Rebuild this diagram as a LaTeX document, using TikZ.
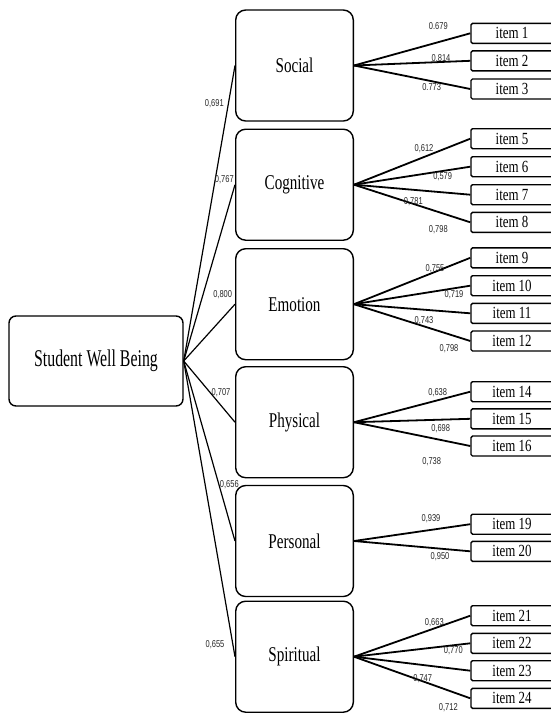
\documentclass[tikz,border=0pt]{standalone}
\usepackage{graphicx}
\usepackage{fontspec}
\setmainfont{Liberation Serif}
\newfontfamily\numfont{Liberation Sans}
\newcommand{\hsq}[2]{\scalebox{#1}[1]{#2}}
\newcommand{\catt}[1]{\hsq{0.72}{#1}}
\newcommand{\itt}[1]{\hsq{0.76}{#1}}
\newcommand{\numt}[1]{\hsq{0.75}{#1}}
\tikzset{
  catbox/.style={draw, line width=1.4pt, rounded corners=10pt, minimum width=117.6pt, minimum height=111pt, inner sep=0pt, font=\fontsize{21}{25}\selectfont},
  mainbox/.style={draw, line width=1.4pt, rounded corners=7pt, minimum width=174pt, minimum height=90pt, inner sep=0pt, font=\fontsize{24}{28}\selectfont},
  itembox/.style={draw, line width=1.4pt, rounded corners=1.5pt, minimum width=82pt, minimum height=20pt, inner sep=0pt, font=\fontsize{17}{20}\selectfont},
  lbl/.style={inner sep=0pt, font=\numfont\fontsize{10}{12}\selectfont, text=black!85},
  edgeA/.style={line width=1.2pt},
  edgeB/.style={line width=1.8pt}
}
\begin{document}
\begin{tikzpicture}[x=1pt,y=-1pt]
\useasboundingbox (0,0) rectangle (551,713);
\clip (0,0) rectangle (551,713);
\fill[white] (0,0) rectangle (551,713);

% main and category boxes
\node[mainbox] (swb) at (96,361) {\hsq{0.66}{Student Well Being}};
\node[catbox] (soc) at (294.5,65.5) {\catt{Social}};
\node[catbox] (cog) at (294.5,184.7) {\catt{Cognitive}};
\node[catbox] (emo) at (294.5,304.2) {\catt{Emotion}};
\node[catbox] (phy) at (294.5,422.2) {\catt{Physical}};
\node[catbox] (per) at (294.5,541) {\catt{Personal}};
\node[catbox] (spi) at (294.5,656.7) {\catt{Spiritual}};

% items
\node[itembox] (i1) at (512,33.3) {\itt{item 1}};
\node[itembox] (i2) at (512,60.8) {\itt{item 2}};
\node[itembox] (i3) at (512,89) {\itt{item 3}};
\node[itembox] (i5) at (512,138.7) {\itt{item 5}};
\node[itembox] (i6) at (512,166.7) {\itt{item 6}};
\node[itembox] (i7) at (512,194.7) {\itt{item 7}};
\node[itembox] (i8) at (512,222.3) {\itt{item 8}};
\node[itembox] (i9) at (512,257.8) {\itt{item 9}};
\node[itembox] (i10) at (512,285.7) {\itt{item 10}};
\node[itembox] (i11) at (512,313.3) {\itt{item 11}};
\node[itembox] (i12) at (512,341) {\itt{item 12}};
\node[itembox] (i14) at (512,391.7) {\itt{item 14}};
\node[itembox] (i15) at (512,418.8) {\itt{item 15}};
\node[itembox] (i16) at (512,446) {\itt{item 16}};
\node[itembox] (i19) at (512,524.2) {\itt{item 19}};
\node[itembox] (i20) at (512,551.3) {\itt{item 20}};
\node[itembox] (i21) at (512,615.7) {\itt{item 21}};
\node[itembox] (i22) at (512,643.3) {\itt{item 22}};
\node[itembox] (i23) at (512,670.7) {\itt{item 23}};
\node[itembox] (i24) at (512,698.3) {\itt{item 24}};

% main -> categories
\foreach \c in {soc,cog,emo,phy,per,spi}
  \draw[edgeA] (swb.east) -- (\c.west);

% categories -> items
\foreach \i in {i1,i2,i3} \draw[edgeB] (soc.east) -- (\i.west);
\foreach \i in {i5,i6,i7,i8} \draw[edgeB] (cog.east) -- (\i.west);
\foreach \i in {i9,i10,i11,i12} \draw[edgeB] (emo.east) -- (\i.west);
\foreach \i in {i14,i15,i16} \draw[edgeB] (phy.east) -- (\i.west);
\foreach \i in {i19,i20} \draw[edgeB] (per.east) -- (\i.west);
\foreach \i in {i21,i22,i23,i24} \draw[edgeB] (spi.east) -- (\i.west);

% loadings main -> categories
\node[lbl] (l1) at (214.3,103.3) {\numt{0,691}};
\node[lbl] (l2) at (224.3,179.3) {\numt{0,767}};
\node[lbl] (l3) at (222.7,295) {\numt{0,800}};
\node[lbl] (l4) at (221,392.7) {\numt{0,707}};
\node[lbl] (l5) at (229.3,485) {\numt{0,656}};
\node[lbl] (l6) at (215,645) {\numt{0,655}};

% loadings categories -> items
\node[lbl] (a1) at (438.3,26) {\numt{0.679}};
\node[lbl] (a2) at (441,58.3) {\numt{0.814}};
\node[lbl] (a3) at (431.7,87.3) {\numt{0.773}};
\node[lbl] (b1) at (424,149) {\numt{0,612}};
\node[lbl] (b2) at (442.7,176.7) {\numt{0,579}};
\node[lbl] (b3) at (413.3,201.7) {\numt{0,781}};
\node[lbl] (b4) at (438.3,230) {\numt{0,798}};
\node[lbl] (c1) at (435,268.3) {\numt{0,755}};
\node[lbl] (c2) at (454,294.3) {\numt{0,719}};
\node[lbl] (c3) at (424,320.7) {\numt{0,743}};
\node[lbl] (c4) at (449,349) {\numt{0,798}};
\node[lbl] (d1) at (437.7,392.7) {\numt{0,638}};
\node[lbl] (d2) at (440.7,428.3) {\numt{0,698}};
\node[lbl] (d3) at (431.7,461.7) {\numt{0,738}};
\node[lbl] (e1) at (431,518.3) {\numt{0,939}};
\node[lbl] (e2) at (440,556.7) {\numt{0,950}};
\node[lbl] (f1) at (434.3,622.3) {\numt{0,663}};
\node[lbl] (f2) at (453.3,651) {\numt{0,770}};
\node[lbl] (f3) at (422.7,678.3) {\numt{0,747}};
\node[lbl] (f4) at (448.3,707.3) {\numt{0,712}};
\end{tikzpicture}
\end{document}
